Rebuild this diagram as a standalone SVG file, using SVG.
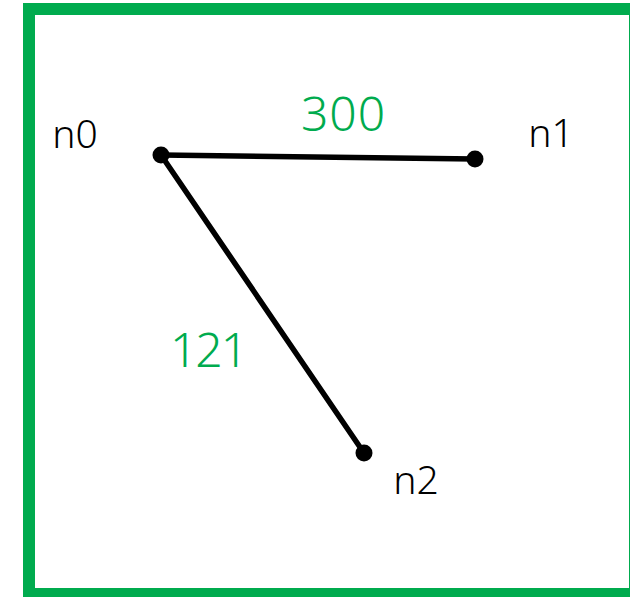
<svg xmlns="http://www.w3.org/2000/svg" width="630" height="597" viewBox="0 0 630 597">
<style>
.node{fill:#000}
.nl{font-family:"Noto Sans","DejaVu Sans",sans-serif;font-size:39px;font-weight:300;fill:#000}
.el{font-family:"Noto Sans","DejaVu Sans",sans-serif;font-size:48px;font-weight:300;fill:#00ab4e}
.edge{stroke:#000;stroke-width:5.5;stroke-linecap:round;fill:none}
</style>
<rect x="0" y="0" width="630" height="597" fill="#fff"/>
<rect x="29" y="9" width="606" height="585" fill="none" stroke="#00ab4e" stroke-width="12"/>
<g id="edges">
<line class="edge" x1="161" y1="155" x2="475" y2="159"/>
<line class="edge" x1="161" y1="155" x2="364" y2="453"/>
<text class="el" x="343.5" y="131" text-anchor="middle" letter-spacing="1">300</text>
<text class="el" x="208" y="367" text-anchor="middle" letter-spacing="-2">121</text>
</g>
<g id="n0"><circle class="node" cx="161" cy="155" r="8.5"/><text class="nl" x="75" y="148" text-anchor="middle">n0</text></g>
<g id="n1"><circle class="node" cx="475" cy="159" r="8.5"/><text class="nl" x="551" y="147" text-anchor="middle">n1</text></g>
<g id="n2"><circle class="node" cx="364" cy="453" r="8.5"/><text class="nl" x="416" y="494" text-anchor="middle">n2</text></g>
</svg>
